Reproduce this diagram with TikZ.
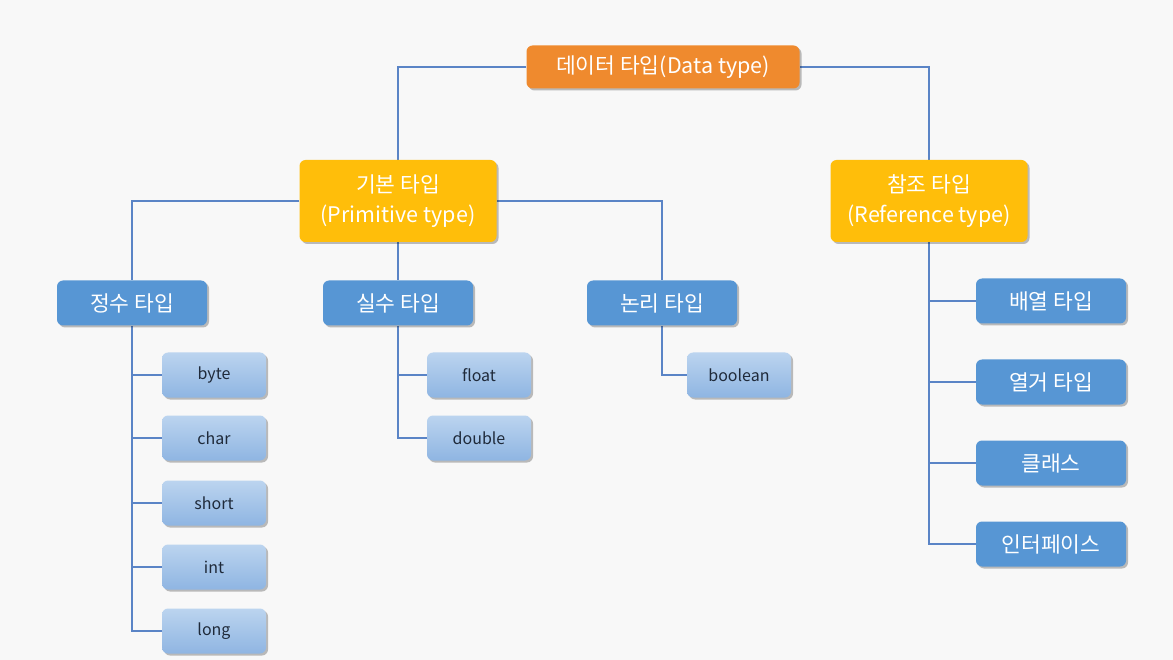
\documentclass[tikz,border=0pt]{standalone}
\usepackage{fontspec}
\setmainfont{Noto Sans CJK KR}
\usetikzlibrary{shadows}
\pgfdeclarelayer{bg}
\pgfdeclarelayer{canvas}
\pgfsetlayers{canvas,bg,main}
\definecolor{bgc}{HTML}{F8F8F8}
\definecolor{orangec}{HTML}{EF8A2E}
\definecolor{yellowc}{HTML}{FFBE0A}
\definecolor{bluec}{HTML}{5796D4}
\definecolor{lbtop}{HTML}{BCD4EF}
\definecolor{lbbot}{HTML}{8FB5E2}
\definecolor{linec}{HTML}{5A84C6}
\definecolor{darktxt}{HTML}{1F2A3A}
\tikzset{
  box/.style={rounded corners=6pt, text=white, align=center, inner sep=0pt,
    drop shadow={shadow xshift=2pt, shadow yshift=-2pt, opacity=0.25, fill=black}},
  topbox/.style={box, fill=orangec, minimum width=273pt, minimum height=43pt, font=\fontsize{21.5}{24}\selectfont},
  midbox/.style={box, fill=yellowc, minimum width=197pt, minimum height=82pt, font=\fontsize{21.5}{30}\selectfont},
  catbox/.style={box, fill=bluec, minimum width=150pt, minimum height=45pt, font=\fontsize{21.5}{24}\selectfont},
  leafbox/.style={box, top color=lbtop, bottom color=lbbot, text=darktxt, minimum width=104pt, minimum height=45pt, font=\fontsize{16}{18}\selectfont},
  conn/.style={draw=linec, line width=1.8pt}
}
\begin{document}
\begin{tikzpicture}[x=1pt,y=-1pt]
\begin{pgfonlayer}{canvas}
\fill[bgc] (0,0) rectangle (1173,660);
\end{pgfonlayer}
\useasboundingbox (0,0) rectangle (1173,660);
\coordinate (jl) at (398,67);
\coordinate (jr) at (929,67);
\coordinate (pl) at (132,201);
\coordinate (pr) at (662,201);
% nodes
\node[topbox] (data) at (663,67) {데이터 타입(Data type)};
\node[midbox] (prim) at (398,201) {기본 타입\\(Primitive type)};
\node[midbox] (ref) at (929,201) {참조 타입\\(Reference type)};
\node[catbox] (int) at (132,303) {정수 타입};
\node[catbox] (real) at (398,303) {실수 타입};
\node[catbox] (logic) at (662,303) {논리 타입};
\node[leafbox] (byte) at (214,375) {byte};
\node[leafbox] (char) at (214,438) {char};
\node[leafbox] (short) at (214,503) {short};
\node[leafbox] (intt) at (214,567) {int};
\node[leafbox] (long) at (214,631) {long};
\node[leafbox] (float) at (479,375) {float};
\node[leafbox] (double) at (479,438) {double};
\node[leafbox] (bool) at (739,375) {boolean};
\node[catbox] (arr) at (1051,301) {배열 타입};
\node[catbox] (enum) at (1051,382) {열거 타입};
\node[catbox] (cls) at (1051,463) {클래스};
\node[catbox] (ifc) at (1051,544) {인터페이스};
% connectors behind the nodes
\begin{pgfonlayer}{bg}
\draw[conn] (data.west) -- (jl) -- (prim.north);
\draw[conn] (data.east) -- (jr) -- (ref.north);
\draw[conn] (prim.west) -- (pl) -- (int.north);
\draw[conn] (prim.east) -- (pr) -- (logic.north);
\draw[conn] (prim.south) -- (real.north);
\draw[conn] (int.south) |- (long.west);
\draw[conn] (int.south |- byte.west) -- (byte.west);
\draw[conn] (int.south |- char.west) -- (char.west);
\draw[conn] (int.south |- short.west) -- (short.west);
\draw[conn] (int.south |- intt.west) -- (intt.west);
\draw[conn] (real.south) |- (double.west);
\draw[conn] (real.south |- float.west) -- (float.west);
\draw[conn] (logic.south) |- (bool.west);
\draw[conn] (ref.south) |- (ifc.west);
\draw[conn] (ref.south |- arr.west) -- (arr.west);
\draw[conn] (ref.south |- enum.west) -- (enum.west);
\draw[conn] (ref.south |- cls.west) -- (cls.west);
\end{pgfonlayer}
\end{tikzpicture}
\end{document}
